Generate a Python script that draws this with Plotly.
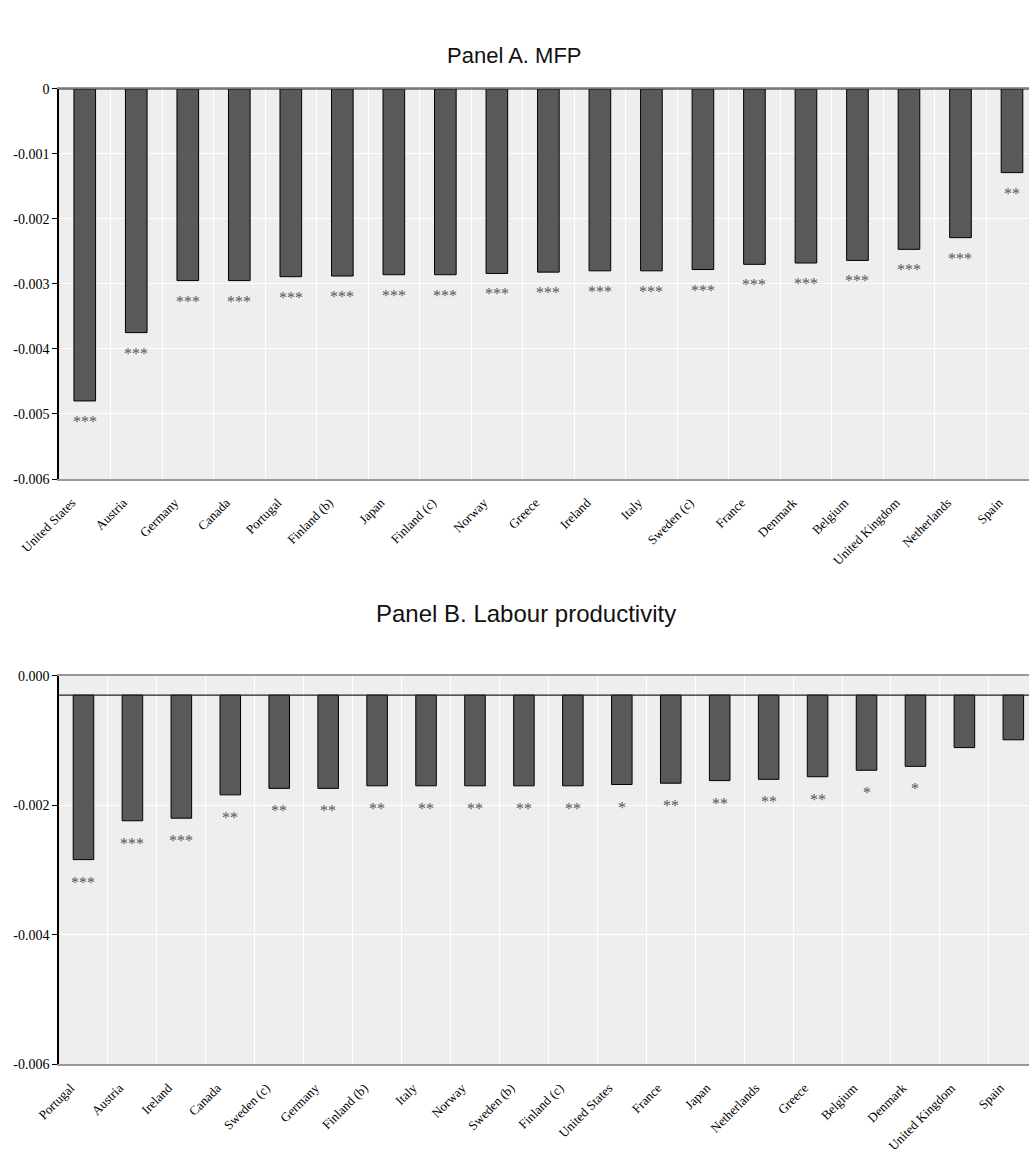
import plotly.graph_objects as go

# Panel A data
a_countries = ["United States", "Austria", "Germany", "Canada", "Portugal", "Finland (b)",
               "Japan", "Finland (c)", "Norway", "Greece", "Ireland", "Italy", "Sweden (c)",
               "France", "Denmark", "Belgium", "United Kingdom", "Netherlands", "Spain"]
a_values = [-0.00480, -0.00375, -0.00295, -0.00295, -0.00289, -0.00288, -0.00286, -0.00286,
            -0.00284, -0.00282, -0.00280, -0.00280, -0.00278, -0.00270, -0.00268, -0.00264,
            -0.00247, -0.00229, -0.00129]
a_stars = ["***"] * 18 + ["**"]

# Panel B data
b_countries = ["Portugal", "Austria", "Ireland", "Canada", "Sweden (c)", "Germany", "Finland (b)",
               "Italy", "Norway", "Sweden (b)", "Finland (c)", "United States", "France", "Japan",
               "Netherlands", "Greece", "Belgium", "Denmark", "United Kingdom", "Spain"]
b_values = [-0.00284, -0.00224, -0.00220, -0.00184, -0.00174, -0.00174, -0.00170, -0.00170,
            -0.00170, -0.00170, -0.00170, -0.00168, -0.00166, -0.00162, -0.00160, -0.00156,
            -0.00146, -0.00140, -0.00111, -0.00099]
b_stars = ["***", "***", "***", "**", "**", "**", "**", "**", "**", "**", "**", "*", "**", "**",
           "**", "**", "*", "*", "", ""]
b_baseline = -0.0003

a_ticks = [0, -0.001, -0.002, -0.003, -0.004, -0.005, -0.006]
a_ticktext = ["0", "-0.001", "-0.002", "-0.003", "-0.004", "-0.005", "-0.006"]
b_ticks = [0, -0.002, -0.004, -0.006]
b_ticktext = ["0.000", "-0.002", "-0.004", "-0.006"]

W, H = 1029, 1154
ML = 59
SERIF = "Liberation Serif, Times New Roman, serif"
SANS = "Liberation Sans, Arial, sans-serif"
BAR = "#595959"
BG = "#eeeeee"

fig = go.Figure()
fig.add_trace(go.Bar(x=a_countries, y=a_values, marker=dict(color=BAR, line=dict(color="#000000", width=1)),
                     width=0.42, xaxis="x", yaxis="y", showlegend=False))
fig.add_trace(go.Bar(x=b_countries, y=[v - b_baseline for v in b_values], base=b_baseline,
                     marker=dict(color=BAR, line=dict(color="#000000", width=1)),
                     width=0.42, xaxis="x2", yaxis="y2", showlegend=False))

annotations = []
for c, v, s in zip(a_countries, a_values, a_stars):
    if s:
        annotations.append(dict(x=c, y=v, xref="x", yref="y", text=s, showarrow=False,
                                yanchor="top", yshift=-10, font=dict(family=SERIF, size=16, color="#555555")))
for c, v, s in zip(b_countries, b_values, b_stars):
    if s:
        annotations.append(dict(x=c, y=v, xref="x2", yref="y2", text=s, showarrow=False,
                                yanchor="top", yshift=-12, font=dict(family=SERIF, size=16, color="#555555")))

annotations.append(dict(text="Panel A. MFP", x=(514 - ML) / (W - ML), y=1 - 55 / H, xref="paper", yref="paper",
                        showarrow=False, xanchor="center", yanchor="middle",
                        font=dict(family=SANS, size=22, color="#111111")))
annotations.append(dict(text="Panel B. Labour productivity", x=(526 - ML) / (W - ML), y=1 - 613 / H,
                        xref="paper", yref="paper", showarrow=False, xanchor="center", yanchor="middle",
                        font=dict(family=SANS, size=24, color="#111111")))

shapes = [
    dict(type="line", xref="x domain", yref="y", x0=0, x1=1, y0=0, y1=0, line=dict(color="#222222", width=1.5)),
    dict(type="line", xref="x2 domain", yref="y2", x0=0, x1=1, y0=b_baseline, y1=b_baseline,
         line=dict(color="#222222", width=1.2)),
]

xcommon = dict(type="category", tickangle=-45, tickson="boundaries", showgrid=True, gridcolor="#ffffff",
               gridwidth=1, showline=True, linecolor="#999999", linewidth=2, mirror=True, ticks="",
               ticklabelstandoff=9, ticklabelshift=-13,
               tickfont=dict(family=SERIF, size=13, color="#000000"), automargin=False, zeroline=False)
ycommon = dict(showgrid=True, gridcolor="#ffffff", gridwidth=1, showline=True, linecolor="#000000",
               linewidth=1.5, ticks="outside", ticklen=5, tickcolor="#000000",
               tickfont=dict(family=SERIF, size=14, color="#000000"), automargin=False, zeroline=False)

fig.update_layout(
    width=W, height=H,
    margin=dict(l=ML, r=0, t=0, b=0),
    paper_bgcolor="#ffffff", plot_bgcolor=BG,
    xaxis=dict(**xcommon, domain=[0, 1], anchor="y", range=[-0.5, 18.33]),
    yaxis=dict(**ycommon, domain=[1 - 479 / H, 1 - 88.7 / H], anchor="x", range=[-0.006, 0],
               tickvals=a_ticks, ticktext=a_ticktext),
    xaxis2=dict(**xcommon, domain=[0, 1], anchor="y2", range=[-0.5, 19.32]),
    yaxis2=dict(**ycommon, domain=[1 - 1064.3 / H, 1 - 675.7 / H], anchor="x2", range=[-0.006, 0],
                tickvals=b_ticks, ticktext=b_ticktext),
    annotations=annotations,
    shapes=shapes,
)

fig.write_html("out.html", config={"displayModeBar": False},
               post_script="document.body.style.margin='0';document.body.style.overflow='hidden';")
